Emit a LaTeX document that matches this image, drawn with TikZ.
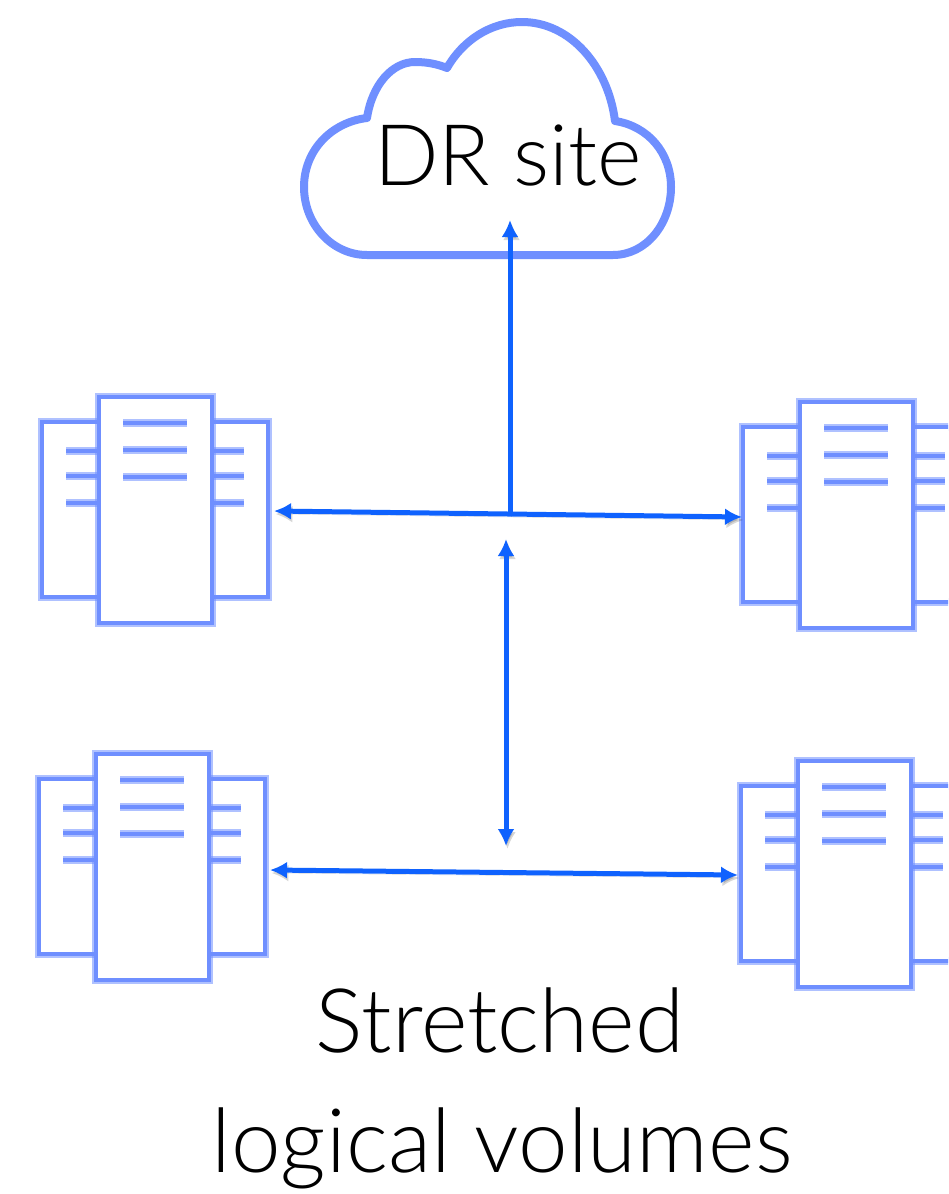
\documentclass[tikz,border=0pt]{standalone}
\usepackage{fontspec}
\setmainfont{Lato Light}
\usetikzlibrary{arrows.meta}
\definecolor{icon}{HTML}{6F8FFF}
\definecolor{flow}{HTML}{0F62FE}
\tikzset{
  x=1pt,y=-1pt,
  halo/.style={preaction={draw=icon,line width=7.5pt,opacity=.55}},
  sidebox/.style={draw=icon,line width=4pt,halo,fill=white,inner sep=0pt,minimum width=226pt,minimum height=175pt},
  mainbox/.style={draw=icon,line width=4pt,halo,fill=white,inner sep=0pt,minimum width=113pt,minimum height=226pt},
  slot/.style={draw=icon,line width=3.5pt,halo},
  cast/.style={preaction={draw=black,opacity=.16,transform canvas={xshift=1.5pt,yshift=-3pt}}},
  link/.style={draw=flow,line width=5pt,cast,-{Latex[length=17pt,width=17pt]}},
  biglink/.style={draw=flow,line width=5pt,cast,{Latex[length=17pt,width=17pt]}-{Latex[length=17pt,width=17pt]}},
  label/.style={inner sep=0pt,font=\fontsize{89}{89}\selectfont,anchor=base,text=black},
  pics/server/.style={code={
    \node[sidebox] (-side) at (155,509.5) {};
    \foreach \yy in {451,476,503}{
      \draw[slot] (66,\yy) -- (99,\yy);
      \draw[slot] (211,\yy) -- (244,\yy);
    }
    \node[mainbox] (-main) at (155.5,510) {};
    \foreach \yy in {423,450,477}{
      \draw[slot] (123,\yy) -- (187,\yy);
    }
  }}
}
\begin{document}
\begin{tikzpicture}
\useasboundingbox (0,0) rectangle (948,1194);
\clip (0,0) rectangle (948,1194);
\fill[white] (0,0) rectangle (948,1194);
\draw[icon,line width=8pt,fill=white,line join=round]
  (367,255) -- (613,255)
  .. controls (646,255) and (671,224) .. (671,187)
  .. controls (671,153) and (648,126) .. (615,121)
  .. controls (608,66) and (570,22) .. (522,22)
  .. controls (491,22) and (463,40) .. (447,68)
  .. controls (437,64) and (427,62) .. (415,62)
  .. controls (392,62) and (372,85) .. (367,118)
  .. controls (332,122) and (304,150) .. (304,187)
  .. controls (304,224) and (332,255) .. (367,255) -- cycle;
\node[label,font=\fontsize{85}{85}\selectfont] (dr) at (508,185) {DR site};
\pic (tl) at (0,0) {server};
\pic (tr) at (701,5) {server};
\pic (bl) at (-3,357) {server};
\pic (br) at (699,364) {server};
\coordinate (j) at (510,514);
\coordinate (up) at (510,220);
\coordinate (a1) at (274,511);
\coordinate (a2) at (742,517);
\coordinate (c1) at (506,539);
\coordinate (c2) at (506,846);
\coordinate (d1) at (270,870);
\coordinate (d2) at (738,875);
\draw[link] (j) -- (up);
\draw[biglink] (a1) -- (a2);
\draw[biglink] (c1) -- (c2);
\draw[biglink] (d1) -- (d2);
\node[label] (s1) at (500,1052) {Stretched};
\node[label] (s2) at (502,1172) {logical volumes};
\end{tikzpicture}
\end{document}
